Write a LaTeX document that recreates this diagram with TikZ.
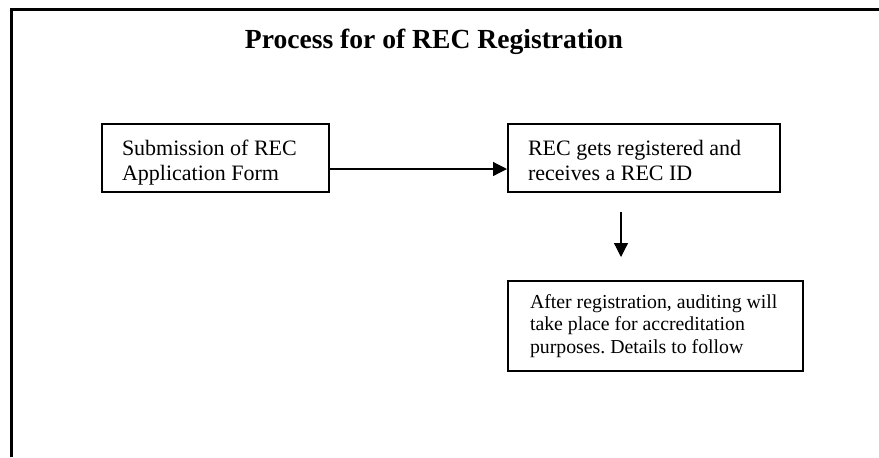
\documentclass[tikz,border=0pt]{standalone}
\usepackage{fontspec}
\setmainfont{Liberation Serif}
\usetikzlibrary{arrows.meta}
\frenchspacing

\tikzset{
  stepbox/.style={draw, line width=1pt, anchor=north west, align=flush left,
    inner xsep=10pt, inner ysep=0pt, font=\fontsize{11}{12.6}\selectfont},
  flow/.style={line width=0.6pt, -{Triangle[length=7pt,width=7pt]}}
}

\begin{document}
\begin{tikzpicture}[x=0.5pt, y=-0.5pt]
\useasboundingbox (0,0) rectangle (879,457);
% page frame
\draw[line width=1.2pt] (11.5,457) -- (11.5,9.5) -- (879,9.5);
\node [font=\bfseries\fontsize{13.8}{16}\selectfont, anchor=base] (title) at (434,48) {Process for of REC Registration};
% steps
\node [stepbox, text width=93.5pt, text height=15.5pt, text depth=18.5pt] (sub) at (101,123) {Submission of REC\\Application Form};
\node [stepbox, text width=116pt, text height=15.5pt, text depth=18.5pt] (reg) at (507,123) {REC gets registered and\\receives a REC ID};
\node [stepbox, inner xsep=11pt, text width=125.5pt, text height=13.5pt, text depth=31.5pt,
       font=\fontsize{9.9}{11.25}\selectfont] (audit) at (507,280) {After registration, auditing will\\take place for accreditation\\purposes. Details to follow};
% arrows
\draw [flow] ([yshift=-5.5pt]sub.east) -- ([yshift=-5.5pt]reg.west);
\coordinate (dtop) at (621,212);
\coordinate (dbot) at (621,257);
\draw [flow] (dtop) -- (dbot);
\end{tikzpicture}
\end{document}
